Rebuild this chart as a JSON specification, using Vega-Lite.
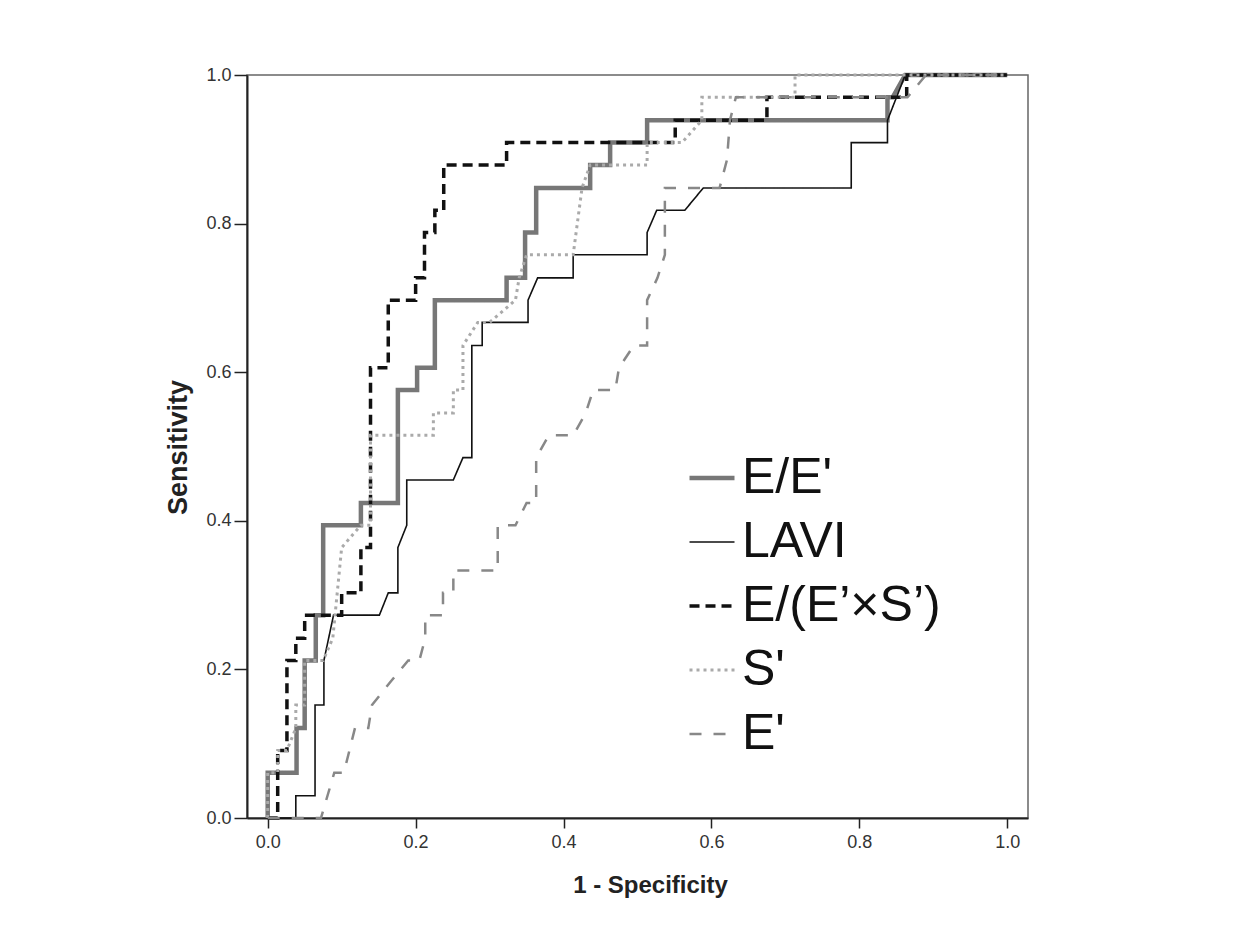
{
  "$schema": "https://vega.github.io/schema/vega-lite/v6.json",
  "width": 781,
  "height": 743,
  "autosize": {"type": "none"},
  "padding": {"left": 247, "top": 75, "right": 225, "bottom": 123},
  "background": "white",
  "config": {
    "view": {"stroke": "#666666", "strokeWidth": 1.5},
    "axis": {
      "grid": false,
      "domainColor": "#222222",
      "domainWidth": 2,
      "tickColor": "#222222",
      "tickWidth": 1.5,
      "labelFont": "Liberation Sans Narrow, Arial Narrow, Liberation Sans",
      "labelFontSize": 18,
      "labelColor": "#333333",
      "titleFont": "Liberation Sans",
      "titleFontSize": 24,
      "titleFontWeight": "bold",
      "titleColor": "#222222"
    },
    "legend": {
      "orient": "none",
      "legendX": 440,
      "legendY": 378,
      "padding": 0,
      "labelFont": "Liberation Sans",
      "labelFontSize": 50,
      "labelColor": "#111111",
      "labelLimit": 0,
      "labelOffset": 5,
      "symbolType": "stroke",
      "symbolSize": 2025,
      "rowPadding": 14
    }
  },
  "data": {
    "values": [
      {"s": "E/E'", "i": 0, "x": 0, "y": 0},
      {"s": "E/E'", "i": 1, "x": 0, "y": 0.061},
      {"s": "E/E'", "i": 2, "x": 0.039, "y": 0.061},
      {"s": "E/E'", "i": 3, "x": 0.039, "y": 0.121},
      {"s": "E/E'", "i": 4, "x": 0.05, "y": 0.121},
      {"s": "E/E'", "i": 5, "x": 0.05, "y": 0.212},
      {"s": "E/E'", "i": 6, "x": 0.065, "y": 0.212},
      {"s": "E/E'", "i": 7, "x": 0.065, "y": 0.273},
      {"s": "E/E'", "i": 8, "x": 0.075, "y": 0.273},
      {"s": "E/E'", "i": 9, "x": 0.075, "y": 0.394},
      {"s": "E/E'", "i": 10, "x": 0.126, "y": 0.394},
      {"s": "E/E'", "i": 11, "x": 0.126, "y": 0.424},
      {"s": "E/E'", "i": 12, "x": 0.176, "y": 0.424},
      {"s": "E/E'", "i": 13, "x": 0.176, "y": 0.576},
      {"s": "E/E'", "i": 14, "x": 0.202, "y": 0.576},
      {"s": "E/E'", "i": 15, "x": 0.202, "y": 0.606},
      {"s": "E/E'", "i": 16, "x": 0.226, "y": 0.606},
      {"s": "E/E'", "i": 17, "x": 0.226, "y": 0.697},
      {"s": "E/E'", "i": 18, "x": 0.323, "y": 0.697},
      {"s": "E/E'", "i": 19, "x": 0.323, "y": 0.727},
      {"s": "E/E'", "i": 20, "x": 0.348, "y": 0.727},
      {"s": "E/E'", "i": 21, "x": 0.348, "y": 0.788},
      {"s": "E/E'", "i": 22, "x": 0.363, "y": 0.788},
      {"s": "E/E'", "i": 23, "x": 0.363, "y": 0.848},
      {"s": "E/E'", "i": 24, "x": 0.436, "y": 0.848},
      {"s": "E/E'", "i": 25, "x": 0.436, "y": 0.879},
      {"s": "E/E'", "i": 26, "x": 0.463, "y": 0.879},
      {"s": "E/E'", "i": 27, "x": 0.463, "y": 0.909},
      {"s": "E/E'", "i": 28, "x": 0.513, "y": 0.909},
      {"s": "E/E'", "i": 29, "x": 0.513, "y": 0.939},
      {"s": "E/E'", "i": 30, "x": 0.838, "y": 0.939},
      {"s": "E/E'", "i": 31, "x": 0.838, "y": 0.97},
      {"s": "E/E'", "i": 32, "x": 0.845, "y": 0.97},
      {"s": "E/E'", "i": 33, "x": 0.862, "y": 1},
      {"s": "E/E'", "i": 34, "x": 1, "y": 1},

      {"s": "LAVI", "i": 0, "x": 0, "y": 0},
      {"s": "LAVI", "i": 1, "x": 0.038, "y": 0},
      {"s": "LAVI", "i": 2, "x": 0.038, "y": 0.03},
      {"s": "LAVI", "i": 3, "x": 0.064, "y": 0.03},
      {"s": "LAVI", "i": 4, "x": 0.064, "y": 0.152},
      {"s": "LAVI", "i": 5, "x": 0.076, "y": 0.152},
      {"s": "LAVI", "i": 6, "x": 0.076, "y": 0.212},
      {"s": "LAVI", "i": 7, "x": 0.089, "y": 0.273},
      {"s": "LAVI", "i": 8, "x": 0.151, "y": 0.273},
      {"s": "LAVI", "i": 9, "x": 0.163, "y": 0.303},
      {"s": "LAVI", "i": 10, "x": 0.176, "y": 0.303},
      {"s": "LAVI", "i": 11, "x": 0.176, "y": 0.364},
      {"s": "LAVI", "i": 12, "x": 0.188, "y": 0.394},
      {"s": "LAVI", "i": 13, "x": 0.188, "y": 0.455},
      {"s": "LAVI", "i": 14, "x": 0.251, "y": 0.455},
      {"s": "LAVI", "i": 15, "x": 0.264, "y": 0.485},
      {"s": "LAVI", "i": 16, "x": 0.276, "y": 0.485},
      {"s": "LAVI", "i": 17, "x": 0.276, "y": 0.636},
      {"s": "LAVI", "i": 18, "x": 0.29, "y": 0.636},
      {"s": "LAVI", "i": 19, "x": 0.29, "y": 0.667},
      {"s": "LAVI", "i": 20, "x": 0.352, "y": 0.667},
      {"s": "LAVI", "i": 21, "x": 0.352, "y": 0.697},
      {"s": "LAVI", "i": 22, "x": 0.365, "y": 0.727},
      {"s": "LAVI", "i": 23, "x": 0.413, "y": 0.727},
      {"s": "LAVI", "i": 24, "x": 0.413, "y": 0.758},
      {"s": "LAVI", "i": 25, "x": 0.513, "y": 0.758},
      {"s": "LAVI", "i": 26, "x": 0.513, "y": 0.788},
      {"s": "LAVI", "i": 27, "x": 0.526, "y": 0.818},
      {"s": "LAVI", "i": 28, "x": 0.564, "y": 0.818},
      {"s": "LAVI", "i": 29, "x": 0.589, "y": 0.848},
      {"s": "LAVI", "i": 30, "x": 0.789, "y": 0.848},
      {"s": "LAVI", "i": 31, "x": 0.789, "y": 0.909},
      {"s": "LAVI", "i": 32, "x": 0.838, "y": 0.909},
      {"s": "LAVI", "i": 33, "x": 0.838, "y": 0.939},
      {"s": "LAVI", "i": 34, "x": 0.862, "y": 1},
      {"s": "LAVI", "i": 35, "x": 1, "y": 1},

      {"s": "E/(E’×S’)", "i": 0, "x": 0, "y": 0},
      {"s": "E/(E’×S’)", "i": 1, "x": 0.0135, "y": 0},
      {"s": "E/(E’×S’)", "i": 2, "x": 0.0135, "y": 0.091},
      {"s": "E/(E’×S’)", "i": 3, "x": 0.026, "y": 0.091},
      {"s": "E/(E’×S’)", "i": 4, "x": 0.026, "y": 0.212},
      {"s": "E/(E’×S’)", "i": 5, "x": 0.038, "y": 0.212},
      {"s": "E/(E’×S’)", "i": 6, "x": 0.038, "y": 0.242},
      {"s": "E/(E’×S’)", "i": 7, "x": 0.05, "y": 0.242},
      {"s": "E/(E’×S’)", "i": 8, "x": 0.05, "y": 0.273},
      {"s": "E/(E’×S’)", "i": 9, "x": 0.1, "y": 0.273},
      {"s": "E/(E’×S’)", "i": 10, "x": 0.1, "y": 0.303},
      {"s": "E/(E’×S’)", "i": 11, "x": 0.126, "y": 0.303},
      {"s": "E/(E’×S’)", "i": 12, "x": 0.126, "y": 0.364},
      {"s": "E/(E’×S’)", "i": 13, "x": 0.139, "y": 0.364},
      {"s": "E/(E’×S’)", "i": 14, "x": 0.139, "y": 0.606},
      {"s": "E/(E’×S’)", "i": 15, "x": 0.163, "y": 0.606},
      {"s": "E/(E’×S’)", "i": 16, "x": 0.163, "y": 0.697},
      {"s": "E/(E’×S’)", "i": 17, "x": 0.2, "y": 0.697},
      {"s": "E/(E’×S’)", "i": 18, "x": 0.2, "y": 0.727},
      {"s": "E/(E’×S’)", "i": 19, "x": 0.212, "y": 0.727},
      {"s": "E/(E’×S’)", "i": 20, "x": 0.212, "y": 0.788},
      {"s": "E/(E’×S’)", "i": 21, "x": 0.226, "y": 0.788},
      {"s": "E/(E’×S’)", "i": 22, "x": 0.226, "y": 0.818},
      {"s": "E/(E’×S’)", "i": 23, "x": 0.238, "y": 0.818},
      {"s": "E/(E’×S’)", "i": 24, "x": 0.238, "y": 0.879},
      {"s": "E/(E’×S’)", "i": 25, "x": 0.323, "y": 0.879},
      {"s": "E/(E’×S’)", "i": 26, "x": 0.323, "y": 0.909},
      {"s": "E/(E’×S’)", "i": 27, "x": 0.551, "y": 0.909},
      {"s": "E/(E’×S’)", "i": 28, "x": 0.551, "y": 0.939},
      {"s": "E/(E’×S’)", "i": 29, "x": 0.675, "y": 0.939},
      {"s": "E/(E’×S’)", "i": 30, "x": 0.675, "y": 0.97},
      {"s": "E/(E’×S’)", "i": 31, "x": 0.864, "y": 0.97},
      {"s": "E/(E’×S’)", "i": 32, "x": 0.864, "y": 1},
      {"s": "E/(E’×S’)", "i": 33, "x": 1, "y": 1},

      {"s": "S'", "i": 0, "x": 0, "y": 0},
      {"s": "S'", "i": 1, "x": 0, "y": 0.061},
      {"s": "S'", "i": 2, "x": 0.0135, "y": 0.061},
      {"s": "S'", "i": 3, "x": 0.0135, "y": 0.091},
      {"s": "S'", "i": 4, "x": 0.026, "y": 0.091},
      {"s": "S'", "i": 5, "x": 0.038, "y": 0.121},
      {"s": "S'", "i": 6, "x": 0.038, "y": 0.152},
      {"s": "S'", "i": 7, "x": 0.05, "y": 0.152},
      {"s": "S'", "i": 8, "x": 0.05, "y": 0.212},
      {"s": "S'", "i": 9, "x": 0.075, "y": 0.212},
      {"s": "S'", "i": 10, "x": 0.088, "y": 0.242},
      {"s": "S'", "i": 11, "x": 0.1, "y": 0.364},
      {"s": "S'", "i": 12, "x": 0.126, "y": 0.394},
      {"s": "S'", "i": 13, "x": 0.139, "y": 0.394},
      {"s": "S'", "i": 14, "x": 0.139, "y": 0.515},
      {"s": "S'", "i": 15, "x": 0.224, "y": 0.515},
      {"s": "S'", "i": 16, "x": 0.224, "y": 0.545},
      {"s": "S'", "i": 17, "x": 0.251, "y": 0.545},
      {"s": "S'", "i": 18, "x": 0.251, "y": 0.576},
      {"s": "S'", "i": 19, "x": 0.264, "y": 0.576},
      {"s": "S'", "i": 20, "x": 0.264, "y": 0.636},
      {"s": "S'", "i": 21, "x": 0.284, "y": 0.667},
      {"s": "S'", "i": 22, "x": 0.3, "y": 0.667},
      {"s": "S'", "i": 23, "x": 0.335, "y": 0.697},
      {"s": "S'", "i": 24, "x": 0.34, "y": 0.727},
      {"s": "S'", "i": 25, "x": 0.35, "y": 0.758},
      {"s": "S'", "i": 26, "x": 0.413, "y": 0.758},
      {"s": "S'", "i": 27, "x": 0.425, "y": 0.848},
      {"s": "S'", "i": 28, "x": 0.436, "y": 0.879},
      {"s": "S'", "i": 29, "x": 0.513, "y": 0.879},
      {"s": "S'", "i": 30, "x": 0.513, "y": 0.909},
      {"s": "S'", "i": 31, "x": 0.56, "y": 0.909},
      {"s": "S'", "i": 32, "x": 0.587, "y": 0.939},
      {"s": "S'", "i": 33, "x": 0.587, "y": 0.97},
      {"s": "S'", "i": 34, "x": 0.713, "y": 0.97},
      {"s": "S'", "i": 35, "x": 0.713, "y": 1},
      {"s": "S'", "i": 36, "x": 1, "y": 1},

      {"s": "E'", "i": 0, "x": 0, "y": 0},
      {"s": "E'", "i": 1, "x": 0.072, "y": 0},
      {"s": "E'", "i": 2, "x": 0.09, "y": 0.061},
      {"s": "E'", "i": 3, "x": 0.103, "y": 0.061},
      {"s": "E'", "i": 4, "x": 0.118, "y": 0.121},
      {"s": "E'", "i": 5, "x": 0.136, "y": 0.121},
      {"s": "E'", "i": 6, "x": 0.141, "y": 0.152},
      {"s": "E'", "i": 7, "x": 0.165, "y": 0.182},
      {"s": "E'", "i": 8, "x": 0.19, "y": 0.212},
      {"s": "E'", "i": 9, "x": 0.205, "y": 0.212},
      {"s": "E'", "i": 10, "x": 0.213, "y": 0.242},
      {"s": "E'", "i": 11, "x": 0.213, "y": 0.273},
      {"s": "E'", "i": 12, "x": 0.237, "y": 0.273},
      {"s": "E'", "i": 13, "x": 0.237, "y": 0.303},
      {"s": "E'", "i": 14, "x": 0.251, "y": 0.303},
      {"s": "E'", "i": 15, "x": 0.251, "y": 0.333},
      {"s": "E'", "i": 16, "x": 0.311, "y": 0.333},
      {"s": "E'", "i": 17, "x": 0.311, "y": 0.394},
      {"s": "E'", "i": 18, "x": 0.335, "y": 0.394},
      {"s": "E'", "i": 19, "x": 0.35, "y": 0.424},
      {"s": "E'", "i": 20, "x": 0.363, "y": 0.424},
      {"s": "E'", "i": 21, "x": 0.363, "y": 0.485},
      {"s": "E'", "i": 22, "x": 0.38, "y": 0.515},
      {"s": "E'", "i": 23, "x": 0.413, "y": 0.515},
      {"s": "E'", "i": 24, "x": 0.43, "y": 0.545},
      {"s": "E'", "i": 25, "x": 0.44, "y": 0.576},
      {"s": "E'", "i": 26, "x": 0.47, "y": 0.576},
      {"s": "E'", "i": 27, "x": 0.475, "y": 0.606},
      {"s": "E'", "i": 28, "x": 0.495, "y": 0.636},
      {"s": "E'", "i": 29, "x": 0.513, "y": 0.636},
      {"s": "E'", "i": 30, "x": 0.513, "y": 0.697},
      {"s": "E'", "i": 31, "x": 0.527, "y": 0.727},
      {"s": "E'", "i": 32, "x": 0.537, "y": 0.758},
      {"s": "E'", "i": 33, "x": 0.537, "y": 0.848},
      {"s": "E'", "i": 34, "x": 0.611, "y": 0.848},
      {"s": "E'", "i": 35, "x": 0.621, "y": 0.886},
      {"s": "E'", "i": 36, "x": 0.625, "y": 0.939},
      {"s": "E'", "i": 37, "x": 0.633, "y": 0.97},
      {"s": "E'", "i": 38, "x": 0.865, "y": 0.97},
      {"s": "E'", "i": 39, "x": 0.89, "y": 1},
      {"s": "E'", "i": 40, "x": 1, "y": 1}
    ]
  },
  "mark": {"type": "line", "interpolate": "linear", "clip": false},
  "encoding": {
    "x": {
      "field": "x", "type": "quantitative",
      "scale": {"domain": [-0.028, 1.028], "nice": false, "zero": false},
      "axis": {
        "title": "1 - Specificity",
        "values": [0, 0.2, 0.4, 0.6, 0.8, 1.0],
        "format": ".1f",
        "tickSize": 10,
        "labelPadding": 5,
        "titleX": 403,
        "titleY": 67,
        "titleAlign": "center",
        "titleBaseline": "middle"
      }
    },
    "y": {
      "field": "y", "type": "quantitative",
      "scale": {"domain": [0, 1], "nice": false},
      "axis": {
        "title": "Sensitivity",
        "values": [0, 0.2, 0.4, 0.6, 0.8, 1.0],
        "format": ".1f",
        "tickSize": 13,
        "labelPadding": 3,
        "titleX": -69,
        "titleY": 372,
        "titleAngle": 270,
        "titleAlign": "center",
        "titleBaseline": "middle",
        "titleFontSize": 27
      }
    },
    "order": {"field": "i", "type": "quantitative"},
    "color": {
      "field": "s", "type": "nominal",
      "scale": {
        "domain": ["E/E'", "LAVI", "E/(E’×S’)", "S'", "E'"],
        "range": ["#777777", "#111111", "#111111", "#aaaaaa", "#888888"]
      },
      "legend": {"title": null}
    },
    "strokeDash": {
      "field": "s", "type": "nominal",
      "scale": {
        "domain": ["E/E'", "LAVI", "E/(E’×S’)", "S'", "E'"],
        "range": [[1, 0], [1, 0], [10, 6], [3, 4], [12, 12]]
      },
      "legend": {"title": null}
    },
    "strokeWidth": {
      "field": "s", "type": "nominal",
      "scale": {
        "type": "ordinal",
        "domain": ["E/E'", "LAVI", "E/(E’×S’)", "S'", "E'"],
        "range": [4.5, 1.6, 3.5, 3, 2.5]
      },
      "legend": {"title": null}
    }
  }
}
